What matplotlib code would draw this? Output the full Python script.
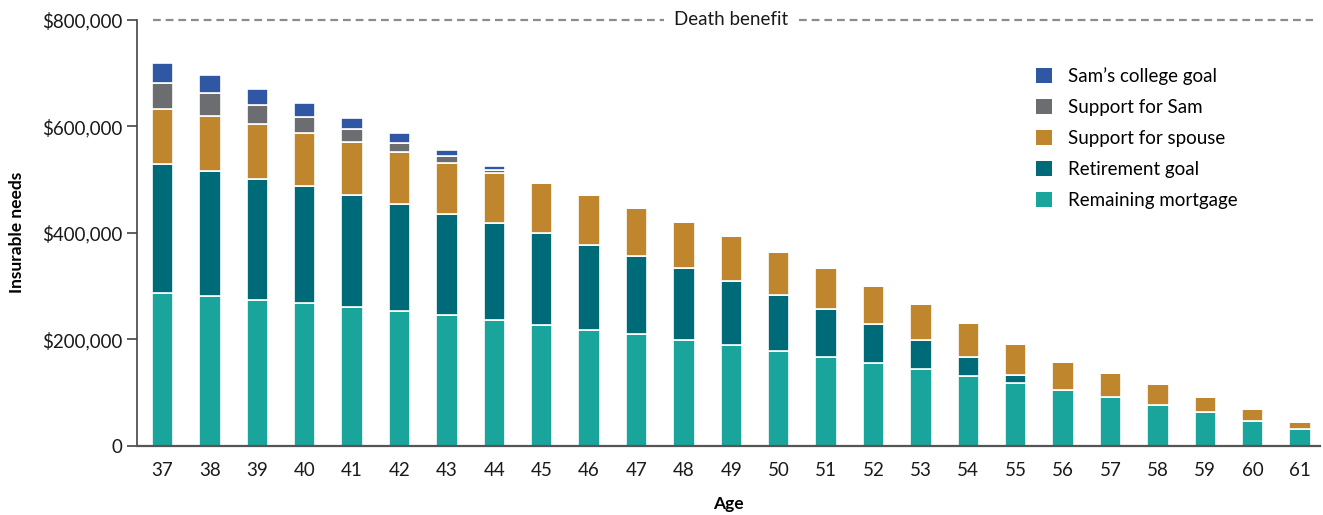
import numpy as np
import matplotlib
matplotlib.use("Agg")
import matplotlib.pyplot as plt
from matplotlib.ticker import FuncFormatter

plt.rcParams['font.family'] = ['Lato', 'DejaVu Sans']

# Insurable needs by age, in dollars (stacked from the bottom up)
ages = list(range(37, 62))
mortgage = [287, 282, 274, 268, 260, 253, 245, 236, 227, 218, 209, 198, 189,
            178, 167, 156, 145, 131, 118, 105, 92, 77, 63, 47, 31]
retirement = [243, 235, 228, 220, 211, 202, 191, 182, 172, 159, 148, 135, 120,
              105, 90, 72, 53, 36, 14, 0, 0, 0, 0, 0, 0]
spouse = [103, 102, 102, 99, 100, 97, 96, 94, 94, 94, 90, 88, 85,
          81, 77, 73, 68, 64, 59, 52, 44, 39, 29, 21, 14]
sam_support = [48, 43, 36, 30, 25, 17, 13, 6, 0, 0, 0, 0, 0,
               0, 0, 0, 0, 0, 0, 0, 0, 0, 0, 0, 0]
college = [38, 35, 31, 27, 20, 19, 11, 7, 0, 0, 0, 0, 0,
           0, 0, 0, 0, 0, 0, 0, 0, 0, 0, 0, 0]
death_benefit = 800000

series = [
    ("Remaining mortgage", mortgage, "#1aa59c"),
    ("Retirement goal", retirement, "#006b78"),
    ("Support for spouse", spouse, "#c0862e"),
    ("Support for Sam", sam_support, "#6c6d70"),
    ("Sam\u2019s college goal", college, "#3057a4"),
]

fig = plt.figure(figsize=(13.23, 5.15), dpi=100)
ax = fig.add_axes([0.1038, 0.1346, 0.8939, 0.8266])

x = np.arange(len(ages))
bottom = np.zeros(len(ages))
handles = []
for label, vals, color in series:
    v = np.array(vals) * 1000.0
    bars = ax.bar(x, v, width=0.45, bottom=bottom, color=color,
                  edgecolor="white", linewidth=1.2, label=label, zorder=2)
    handles.append(bars)
    bottom += v

# Death benefit reference line with its label sitting on it
ax.hlines(death_benefit, -0.2, 24.27, colors="#8c8c8c", linestyles=(0, (3.5, 2.2)),
          linewidth=1.6, zorder=1, clip_on=False)
ax.text(12, death_benefit, "Death benefit", ha="center", va="center", fontsize=13.5,
        color="#1a1a1a", bbox=dict(facecolor="white", edgecolor="none", pad=7), zorder=3)

ax.set_xlim(-0.53, 24.42)
ax.set_ylim(0, 800000)
ax.set_xticks(x)
ax.set_xticklabels([str(a) for a in ages])
ax.set_yticks([0, 200000, 400000, 600000, 800000])
ax.yaxis.set_major_formatter(FuncFormatter(lambda v, p: "0" if v == 0 else f"${v:,.0f}"))

ax.tick_params(axis="x", length=0, pad=12, labelsize=13.5, labelcolor="#1a1a1a")
ax.tick_params(axis="y", length=7, width=1.2, pad=4, labelsize=13.5,
               labelcolor="#1a1a1a", color="#444444")

for side in ["top", "right"]:
    ax.spines[side].set_visible(False)
ax.spines["left"].set_color("#444444")
ax.spines["left"].set_linewidth(1.2)
ax.spines["bottom"].set_color("#555555")
ax.spines["bottom"].set_linewidth(1.6)

ax.set_xlabel("Age", fontsize=12.5, fontweight="bold", labelpad=12)
ax.set_ylabel("Insurable needs", fontsize=12.5, fontweight="bold", labelpad=12)

leg = ax.legend(handles[::-1], [s[0] for s in series[::-1]],
                loc="upper left", bbox_to_anchor=(1036 / 1323, 1 - 67 / 515),
                bbox_transform=fig.transFigure, frameon=False, fontsize=13.5,
                handlelength=0.85, handleheight=0.85, handletextpad=0.85,
                labelspacing=0.75, borderpad=0, borderaxespad=0)
for h in leg.legend_handles:
    h.set_edgecolor("none")

fig.savefig("out.png", dpi=100, facecolor="white")
